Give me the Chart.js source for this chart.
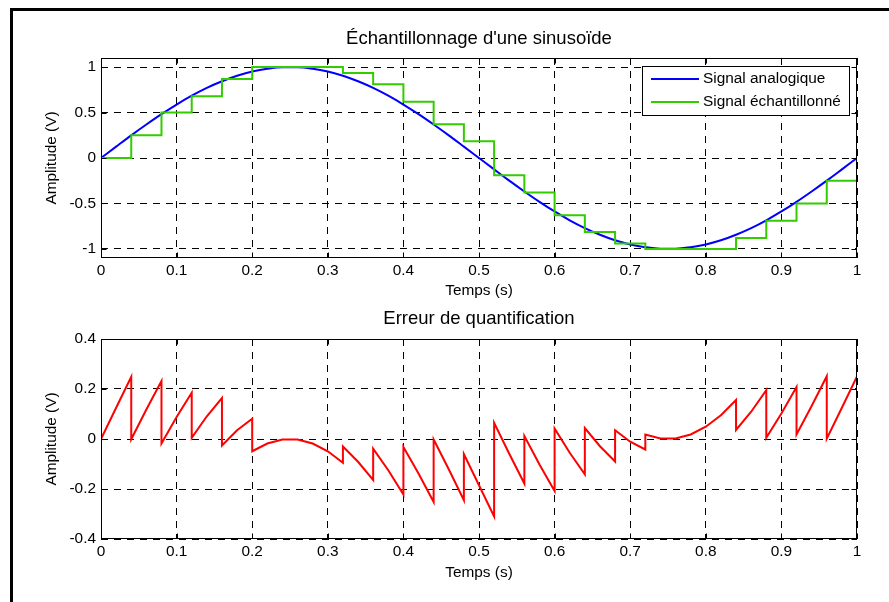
<!DOCTYPE html>
<html>
<head>
<meta charset="utf-8">
<script src="https://cdn.jsdelivr.net/npm/chart.js@4.4.1/dist/chart.umd.min.js"></script>
<style>
  html, body { margin: 0; padding: 0; background: #fff; }
  #page { position: relative; width: 889px; height: 602px; overflow: hidden; }
  #frame { position: absolute; left: 10px; top: 8px; width: 920px; height: 640px;
           border-left: 3px solid #000; border-top: 3px solid #000; }
  canvas { position: absolute; left: 0; }
  #c1 { top: 0; }
  #c2 { top: 300px; }
</style>
</head>
<body>
<div id="page">
  <div id="frame"></div>
  <canvas id="c1" width="889" height="300"></canvas>
  <canvas id="c2" width="889" height="302"></canvas>
</div>
<script>
// signal analogique, lu tous les 0.02 s
const tAnalog = [0, 0.02, 0.04, 0.06, 0.08, 0.1, 0.12, 0.14, 0.16, 0.18, 0.2, 0.22, 0.24, 0.26, 0.28, 0.3,
  0.32, 0.34, 0.36, 0.38, 0.4, 0.42, 0.44, 0.46, 0.48, 0.5, 0.52, 0.54, 0.56, 0.58, 0.6, 0.62, 0.64, 0.66,
  0.68, 0.7, 0.72, 0.74, 0.76, 0.78, 0.8, 0.82, 0.84, 0.86, 0.88, 0.9, 0.92, 0.94, 0.96, 0.98, 1];
const vAnalog = [0, 0.125, 0.249, 0.368, 0.482, 0.588, 0.685, 0.771, 0.844, 0.905, 0.951, 0.982, 0.998,
  0.998, 0.982, 0.951, 0.905, 0.844, 0.771, 0.685, 0.588, 0.482, 0.368, 0.249, 0.125, 0, -0.125, -0.249,
  -0.368, -0.482, -0.588, -0.685, -0.771, -0.844, -0.905, -0.951, -0.982, -0.998, -0.998, -0.982, -0.951,
  -0.905, -0.844, -0.771, -0.685, -0.588, -0.482, -0.368, -0.249, -0.125, 0];

// échantillons (bloqueur d'ordre 0), période 0.04 s
const tSample = [0, 0.04, 0.08, 0.12, 0.16, 0.2, 0.24, 0.28, 0.32, 0.36, 0.4, 0.44, 0.48, 0.52, 0.56,
  0.6, 0.64, 0.68, 0.72, 0.76, 0.8, 0.84, 0.88, 0.92, 0.96, 1];
const vSample = [0, 0.25, 0.5, 0.68, 0.87, 1, 1, 1, 0.935, 0.81, 0.62, 0.37, 0.185, -0.19, -0.38, -0.63,
  -0.815, -0.94, -1, -1, -1, -0.88, -0.69, -0.5, -0.25, -0.25];

// erreur : début, milieu et fin de chaque intervalle
const errStart = [0, -0.001, -0.018, 0.005, -0.026, -0.049, -0.002, -0.018, -0.03, -0.039, -0.032, -0.002,
  -0.06, 0.065, 0.012, 0.042, 0.044, 0.035, 0.018, 0.002, 0.049, 0.036, 0.005, 0.018, 0.001];
const errMid = [0.125, 0.118, 0.088, 0.091, 0.035, -0.018, -0.002, -0.049, -0.091, -0.125, -0.138, -0.121,
  -0.185, -0.059, -0.102, -0.055, -0.029, -0.011, 0.002, 0.018, 0.095, 0.109, 0.102, 0.132, 0.125];
const errEnd = [0.249, 0.232, 0.185, 0.164, 0.081, -0.002, -0.018, -0.095, -0.164, -0.222, -0.252, -0.245,
  -0.31, -0.178, -0.208, -0.141, -0.09, -0.042, 0.002, 0.049, 0.156, 0.195, 0.208, 0.251, 0.25];

const xTicks = [0, 0.1, 0.2, 0.3, 0.4, 0.5, 0.6, 0.7, 0.8, 0.9, 1];
const yTicksTop = [-1, -0.5, 0, 0.5, 1];
const yTicksBot = [-0.4, -0.2, 0, 0.2, 0.4];

const FONT = 'Arial, "Liberation Sans", sans-serif';
Chart.defaults.font.family = FONT;
Chart.defaults.font.size = 15.4;
Chart.defaults.color = '#000';

const $ = id => document.getElementById(id);

function axes(yMin, yMax, yTicks, xHeight, xTitleBottom) {
  const grid = { color: '#000', lineWidth: 1, drawTicks: false };
  const border = { display: false, dash: [7, 6] };
  return {
    x: {
      type: 'linear', min: 0, max: 1,
      afterBuildTicks: s => { s.ticks = xTicks.map(v => ({ value: v })); },
      afterFit: s => { s.height = xHeight; },
      grid, border,
      ticks: { padding: 4, maxRotation: 0, autoSkip: false, callback: v => String(v) },
      title: { display: true, text: 'Temps (s)', padding: { top: 0, bottom: xTitleBottom } }
    },
    y: {
      type: 'linear', min: yMin, max: yMax,
      afterBuildTicks: s => { s.ticks = yTicks.map(v => ({ value: v })); },
      afterFit: s => { s.width = 101; },
      grid, border,
      ticks: { padding: 5, autoSkip: false, callback: v => String(v) },
      title: { display: true, text: 'Amplitude (V)', padding: { top: 43, bottom: 0 } }
    }
  };
}

// cadre des axes + graduations vers l'intérieur (style matlab)
const boxPlugin = {
  id: 'box',
  afterDraw(chart) {
    const { ctx, chartArea: a, scales: { x, y } } = chart;
    const L = Math.round(a.left) + 0.5, R = Math.round(a.right) - 0.5;
    const T = Math.round(a.top) + 0.5, B = Math.round(a.bottom) - 0.5;
    ctx.save();
    ctx.strokeStyle = '#000';
    ctx.lineWidth = 1;
    ctx.beginPath();
    x.ticks.forEach(t => {
      const px = Math.round(x.getPixelForValue(t.value)) + 0.5;
      ctx.moveTo(px, B); ctx.lineTo(px, B - 5);
      ctx.moveTo(px, T); ctx.lineTo(px, T + 5);
    });
    y.ticks.forEach(t => {
      const py = Math.round(y.getPixelForValue(t.value)) + 0.5;
      ctx.moveTo(L, py); ctx.lineTo(L + 5, py);
      ctx.moveTo(R, py); ctx.lineTo(R - 5, py);
    });
    ctx.stroke();
    ctx.strokeRect(L, T, R - L, B - T);
    ctx.restore();
  }
};

const legendPlugin = {
  id: 'mlegend',
  afterDraw(chart) {
    const { ctx, chartArea: a } = chart;
    const w = 207, h = 49;
    const x0 = Math.round(a.right) - 8 - w, y0 = Math.round(a.top) + 8;
    ctx.save();
    ctx.fillStyle = '#fff';
    ctx.fillRect(x0, y0, w, h);
    ctx.strokeStyle = '#000';
    ctx.lineWidth = 1;
    ctx.strokeRect(x0 + 0.5, y0 + 0.5, w, h);
    ctx.font = '15.4px ' + FONT;
    ctx.textBaseline = 'middle';
    chart.data.datasets.forEach((ds, i) => {
      const yy = y0 + 13 + i * 23;
      ctx.strokeStyle = ds.borderColor;
      ctx.lineWidth = ds.borderWidth;
      ctx.beginPath();
      ctx.moveTo(x0 + 9, yy);
      ctx.lineTo(x0 + 57, yy);
      ctx.stroke();
      ctx.fillStyle = '#000';
      ctx.fillText(ds.label, x0 + 61, yy);
    });
    ctx.restore();
  }
};

const common = {
  responsive: false,
  animation: false,
  devicePixelRatio: 1,
  layout: { padding: { left: 0, top: 0, right: 32, bottom: 0 } }
};

new Chart($('c1'), {
  type: 'line',
  data: {
    datasets: [
      {
        label: 'Signal analogique',
        data: tAnalog.map((t, i) => ({ x: t, y: vAnalog[i] })),
        borderColor: '#0000ff', borderWidth: 2, pointRadius: 0,
        cubicInterpolationMode: 'monotone', order: 1
      },
      {
        label: 'Signal échantillonné',
        data: tSample.map((t, i) => ({ x: t, y: vSample[i] })),
        borderColor: '#33cc00', borderWidth: 2, pointRadius: 0,
        stepped: true, order: 0
      }
    ]
  },
  options: {
    ...common,
    plugins: {
      legend: { display: false },
      tooltip: { enabled: false },
      title: {
        display: true, fullSize: false, text: "Échantillonnage d'une sinusoïde", color: '#000',
        font: { size: 18.5, weight: 'normal' }, padding: { top: 27.9, bottom: 7.9 }
      }
    },
    scales: axes(-1.1, 1.1, yTicksTop, 42, 0)
  },
  plugins: [boxPlugin, legendPlugin]
});

const errPts = [];
errStart.forEach((v, k) => {
  errPts.push({ x: tSample[k], y: v });
  errPts.push({ x: tAnalog[2 * k + 1], y: errMid[k] });
  errPts.push({ x: tSample[k + 1], y: errEnd[k] });
});

new Chart($('c2'), {
  type: 'line',
  data: {
    datasets: [{
      label: 'Erreur',
      data: errPts,
      borderColor: '#ff0000', borderWidth: 2, pointRadius: 0, tension: 0
    }]
  },
  options: {
    ...common,
    plugins: {
      legend: { display: false },
      tooltip: { enabled: false },
      title: {
        display: true, fullSize: false, text: 'Erreur de quantification', color: '#000',
        font: { size: 18.5, weight: 'normal' }, padding: { top: 7.9, bottom: 8.9 }
      }
    },
    scales: axes(-0.4, 0.4, yTicksBot, 63, 20)
  },
  plugins: [boxPlugin]
});
</script>
</body>
</html>
